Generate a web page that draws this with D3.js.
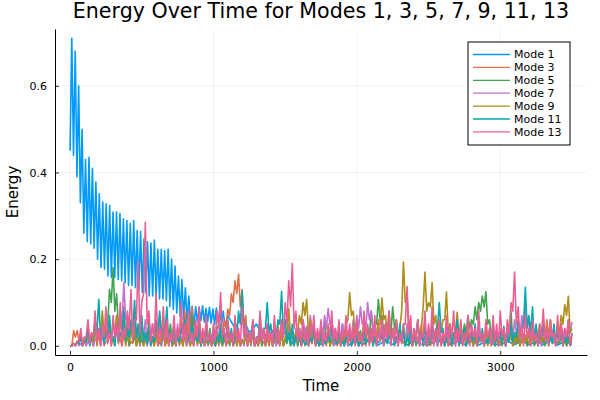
<!DOCTYPE html>
<html lang="en">
<head>
<meta charset="UTF-8">
<title>Energy Over Time</title>
<style>
  body { margin: 0; background: #fff; }
  text { font-family: "DejaVu Sans", sans-serif; fill: #000; }
  .grid line { stroke: #000; stroke-opacity: 0.09; stroke-width: 0.6px; }
  .mode { fill: none; stroke-width: 1.6px; stroke-linejoin: round; }
</style>
</head>
<body>
<script src="https://cdnjs.cloudflare.com/ajax/libs/d3/7.8.5/d3.min.js"></script>
<script>

var width = 600,
    height = 400;

var margin = {left: 55, right: 13, top: 29, bottom: 45};

var modeNames = ["Mode 1", "Mode 3", "Mode 5", "Mode 7", "Mode 9", "Mode 11", "Mode 13"];
var modeColors = ["#009afa", "#e36f47", "#3ea44e", "#c371d2", "#ac8e18", "#00aaae", "#ed5e93"];

var xTicks = [0, 1000, 2000, 3000];
var yTicks = [0, 0.2, 0.4, 0.6];

// mode 1 sampled every 12 time units up to t = 1080 (peak / trough pairs)
var mode1EarlyStep = 12;
var mode1Early = [0.45,
  0.71, 0.44, 0.68, 0.39, 0.60, 0.33, 0.50, 0.26, 0.43, 0.24,
  0.435, 0.235, 0.41, 0.225, 0.378, 0.20, 0.351, 0.181, 0.332, 0.177,
  0.328, 0.161, 0.324, 0.158, 0.309, 0.158, 0.309, 0.153, 0.305, 0.150,
  0.293, 0.146, 0.289, 0.139, 0.282, 0.139, 0.289, 0.134, 0.266, 0.131,
  0.264, 0.123, 0.247, 0.123, 0.240, 0.115, 0.237, 0.115, 0.244, 0.112,
  0.223, 0.108, 0.223, 0.108, 0.220, 0.104, 0.223, 0.091, 0.200, 0.084,
  0.184, 0.076, 0.161, 0.069, 0.153, 0.060, 0.134, 0.053, 0.115, 0.053,
  0.091, 0.045, 0.090, 0.055, 0.088, 0.058, 0.092, 0.055, 0.086, 0.056,
  0.089, 0.052, 0.085, 0.050, 0.087, 0.054, 0.082, 0.048, 0.080, 0.046];

// mode 1 after t = 1100, every 50 time units
var mode1LateStart = 1100,
    mode1LateStep = 50;
var mode1Late = [0.07, 0.04, 0.07, 0.03, 0.05, 0.02, 0.04, 0.01, 0.03, 0.005,
  0.025, 0.004, 0.02, 0.003, 0.015, 0.004, 0.02, 0.002, 0.012, 0.004,
  0.018, 0.002, 0.012, 0.003, 0.015, 0.002, 0.01, 0.004, 0.002, 0.01,
  0.015, 0.002, 0.01, 0.003, 0.012, 0.002, 0.01, 0.004, 0.002, 0.01,
  0.003, 0.012, 0.002, 0.01, 0.003, 0.012, 0.002, 0.01, 0.003];

// the other modes: local peaks every 25 time units (t = 0 .. 3500)
// and the dips between them (t = 12.5, 37.5, ...)
var modeStep = 25;

var mode3 = [0.00, 0.035, 0.035, 0.02, 0.01, 0.04, 0.015, 0.05, 0.02, 0.06,
  0.01, 0.045, 0.02, 0.07, 0.015, 0.03, 0.055, 0.01, 0.04, 0.02,
  0.06, 0.015, 0.035, 0.01, 0.05, 0.02, 0.065, 0.015, 0.04, 0.03,
  0.02, 0.055, 0.08, 0.07, 0.09, 0.04, 0.06, 0.02, 0.045, 0.015,
  0.03, 0.01, 0.04, 0.06, 0.085, 0.12, 0.15, 0.165, 0.13, 0.07,
  0.03, 0.05, 0.015, 0.04, 0.01, 0.03, 0.02, 0.045, 0.01, 0.025,
  0.015, 0.035, 0.01, 0.03, 0.02, 0.01, 0.04, 0.015, 0.03, 0.01,
  0.025, 0.01, 0.035, 0.015, 0.03, 0.01, 0.02, 0.04, 0.015, 0.025,
  0.01, 0.03, 0.02, 0.045, 0.015, 0.035, 0.06, 0.03, 0.05, 0.08,
  0.04, 0.02, 0.035, 0.01, 0.03, 0.015, 0.04, 0.02, 0.05, 0.015,
  0.03, 0.01, 0.025, 0.04, 0.015, 0.03, 0.01, 0.02, 0.035, 0.015,
  0.03, 0.01, 0.025, 0.015, 0.04, 0.02, 0.01, 0.03, 0.015, 0.025,
  0.01, 0.035, 0.02, 0.03, 0.01, 0.04, 0.015, 0.025, 0.01, 0.03,
  0.045, 0.015, 0.03, 0.06, 0.02, 0.035, 0.01, 0.025, 0.04, 0.015, 0.02];
var mode3Low = [0.00, 0.02, 0.01, 0.005, 0.0, 0.01, 0.0, 0.01, 0.005, 0.0,
  0.01, 0.005, 0.0, 0.01, 0.0, 0.015, 0.0, 0.005, 0.01, 0.0,
  0.005, 0.0, 0.01, 0.0, 0.005, 0.01, 0.0, 0.005, 0.0, 0.01,
  0.005, 0.02, 0.03, 0.04, 0.02, 0.01, 0.0, 0.01, 0.0, 0.005,
  0.0, 0.005, 0.02, 0.04, 0.07, 0.10, 0.12, 0.09, 0.04, 0.01,
  0.01, 0.0, 0.005, 0.0, 0.01, 0.0, 0.01, 0.0, 0.005, 0.0,
  0.01, 0.0, 0.005, 0.0, 0.0, 0.01, 0.0, 0.005, 0.0, 0.0,
  0.005, 0.0, 0.0, 0.01, 0.0, 0.005, 0.0, 0.01, 0.0, 0.005,
  0.0, 0.01, 0.0, 0.005, 0.01, 0.02, 0.01, 0.02, 0.04, 0.02,
  0.01, 0.0, 0.005, 0.0, 0.01, 0.0, 0.005, 0.01, 0.0, 0.005,
  0.0, 0.005, 0.01, 0.0, 0.005, 0.0, 0.0, 0.01, 0.0, 0.005,
  0.0, 0.01, 0.0, 0.005, 0.01, 0.0, 0.005, 0.0, 0.01, 0.0,
  0.005, 0.0, 0.01, 0.0, 0.005, 0.0, 0.01, 0.0, 0.005, 0.01,
  0.0, 0.01, 0.02, 0.005, 0.01, 0.0, 0.005, 0.01, 0.0, 0.005];

var mode5 = [0.00, 0.005, 0.01, 0.02, 0.015, 0.035, 0.02, 0.05, 0.03, 0.07,
  0.04, 0.13, 0.18, 0.12, 0.06, 0.09, 0.03, 0.05, 0.02, 0.04,
  0.015, 0.03, 0.06, 0.02, 0.045, 0.01, 0.035, 0.02, 0.05, 0.015,
  0.04, 0.02, 0.06, 0.03, 0.07, 0.04, 0.05, 0.02, 0.035, 0.04,
  0.02, 0.045, 0.03, 0.015, 0.035, 0.02, 0.01, 0.03, 0.015, 0.04,
  0.02, 0.03, 0.01, 0.025, 0.04, 0.015, 0.03, 0.01, 0.02, 0.035,
  0.015, 0.025, 0.01, 0.03, 0.02, 0.04, 0.015, 0.03, 0.05, 0.025,
  0.04, 0.06, 0.03, 0.045, 0.02, 0.035, 0.05, 0.02, 0.04, 0.03,
  0.05, 0.035, 0.06, 0.04, 0.08, 0.05, 0.107, 0.07, 0.05, 0.04,
  0.09, 0.06, 0.04, 0.05, 0.03, 0.02, 0.035, 0.015, 0.03, 0.02,
  0.01, 0.025, 0.04, 0.015, 0.03, 0.02, 0.04, 0.03, 0.025, 0.05,
  0.05, 0.07, 0.06, 0.09, 0.10, 0.115, 0.125, 0.06, 0.04, 0.03,
  0.02, 0.04, 0.03, 0.08, 0.03, 0.015, 0.035, 0.02, 0.04, 0.025,
  0.01, 0.03, 0.015, 0.025, 0.04, 0.02, 0.01, 0.03, 0.015, 0.02, 0.01];
var mode5Low = [0.0, 0.0, 0.005, 0.0, 0.01, 0.005, 0.0, 0.01, 0.02, 0.01,
  0.05, 0.10, 0.08, 0.04, 0.02, 0.01, 0.0, 0.01, 0.0, 0.005,
  0.0, 0.01, 0.0, 0.005, 0.0, 0.0, 0.005, 0.01, 0.0, 0.005,
  0.01, 0.0, 0.02, 0.01, 0.02, 0.01, 0.0, 0.005, 0.01, 0.0,
  0.005, 0.01, 0.0, 0.005, 0.0, 0.0, 0.01, 0.0, 0.005, 0.0,
  0.01, 0.0, 0.005, 0.0, 0.0, 0.01, 0.0, 0.005, 0.0, 0.0,
  0.005, 0.0, 0.01, 0.0, 0.005, 0.0, 0.01, 0.02, 0.01, 0.005,
  0.02, 0.01, 0.0, 0.01, 0.005, 0.01, 0.0, 0.01, 0.005, 0.01,
  0.02, 0.01, 0.03, 0.02, 0.04, 0.05, 0.06, 0.03, 0.02, 0.03,
  0.04, 0.02, 0.01, 0.01, 0.0, 0.005, 0.0, 0.005, 0.0, 0.0,
  0.005, 0.01, 0.0, 0.005, 0.0, 0.01, 0.0, 0.005, 0.01, 0.02,
  0.03, 0.04, 0.05, 0.06, 0.08, 0.09, 0.05, 0.02, 0.01, 0.005,
  0.01, 0.0, 0.02, 0.01, 0.005, 0.0, 0.01, 0.0, 0.005, 0.0,
  0.005, 0.0, 0.0, 0.01, 0.005, 0.0, 0.005, 0.0, 0.0, 0.005];

var mode7 = [0.00, 0.005, 0.01, 0.005, 0.02, 0.01, 0.03, 0.015, 0.04, 0.02,
  0.05, 0.03, 0.06, 0.04, 0.08, 0.146, 0.07, 0.05, 0.09, 0.03,
  0.04, 0.06, 0.02, 0.05, 0.03, 0.07, 0.02, 0.04, 0.015, 0.03,
  0.05, 0.02, 0.04, 0.015, 0.03, 0.05, 0.02, 0.035, 0.015, 0.03,
  0.02, 0.04, 0.015, 0.03, 0.01, 0.025, 0.04, 0.02, 0.015, 0.03,
  0.02, 0.035, 0.015, 0.04, 0.025, 0.05, 0.03, 0.02, 0.04, 0.06,
  0.035, 0.05, 0.02, 0.04, 0.03, 0.06, 0.045, 0.07, 0.04, 0.03,
  0.05, 0.07, 0.086, 0.06, 0.04, 0.03, 0.05, 0.02, 0.04, 0.06,
  0.07, 0.09, 0.06, 0.10, 0.08, 0.05, 0.04, 0.06, 0.03, 0.05,
  0.035, 0.02, 0.04, 0.03, 0.05, 0.02, 0.04, 0.015, 0.03, 0.02,
  0.04, 0.025, 0.015, 0.03, 0.02, 0.045, 0.03, 0.015, 0.025, 0.04,
  0.02, 0.035, 0.015, 0.03, 0.05, 0.02, 0.04, 0.03, 0.015, 0.025,
  0.04, 0.02, 0.05, 0.035, 0.06, 0.04, 0.07, 0.10, 0.05, 0.03,
  0.04, 0.02, 0.05, 0.03, 0.04, 0.02, 0.035, 0.05, 0.03, 0.06, 0.055];
var mode7Low = [0.0, 0.0, 0.0, 0.005, 0.0, 0.005, 0.0, 0.01, 0.0, 0.01,
  0.005, 0.01, 0.02, 0.01, 0.05, 0.06, 0.02, 0.03, 0.01, 0.0,
  0.02, 0.0, 0.01, 0.005, 0.02, 0.0, 0.01, 0.0, 0.005, 0.01,
  0.0, 0.01, 0.005, 0.0, 0.01, 0.0, 0.005, 0.0, 0.005, 0.0,
  0.01, 0.0, 0.005, 0.0, 0.005, 0.01, 0.0, 0.005, 0.0, 0.01,
  0.0, 0.005, 0.0, 0.01, 0.005, 0.02, 0.01, 0.0, 0.02, 0.03,
  0.01, 0.02, 0.0, 0.01, 0.02, 0.03, 0.02, 0.04, 0.01, 0.01,
  0.02, 0.04, 0.05, 0.03, 0.01, 0.01, 0.02, 0.0, 0.02, 0.03,
  0.04, 0.05, 0.04, 0.06, 0.03, 0.02, 0.02, 0.01, 0.01, 0.02,
  0.01, 0.0, 0.01, 0.005, 0.02, 0.0, 0.01, 0.0, 0.005, 0.0,
  0.01, 0.005, 0.0, 0.01, 0.0, 0.01, 0.005, 0.0, 0.005, 0.01,
  0.0, 0.01, 0.0, 0.005, 0.01, 0.0, 0.01, 0.005, 0.0, 0.005,
  0.01, 0.0, 0.02, 0.01, 0.03, 0.02, 0.04, 0.05, 0.02, 0.01,
  0.01, 0.0, 0.02, 0.01, 0.01, 0.0, 0.01, 0.02, 0.01, 0.03];

var mode9 = [0.00, 0.005, 0.01, 0.03, 0.015, 0.05, 0.02, 0.06, 0.03, 0.08,
  0.04, 0.06, 0.02, 0.07, 0.03, 0.05, 0.02, 0.04, 0.06, 0.02,
  0.035, 0.015, 0.05, 0.02, 0.03, 0.01, 0.04, 0.015, 0.025, 0.01,
  0.03, 0.015, 0.02, 0.04, 0.01, 0.03, 0.015, 0.025, 0.01, 0.02,
  0.01, 0.025, 0.015, 0.03, 0.01, 0.02, 0.035, 0.015, 0.01, 0.025,
  0.015, 0.03, 0.01, 0.02, 0.04, 0.015, 0.03, 0.02, 0.05, 0.03,
  0.02, 0.086, 0.04, 0.03, 0.07, 0.10, 0.107, 0.06, 0.03, 0.02,
  0.035, 0.015, 0.03, 0.01, 0.025, 0.04, 0.02, 0.05, 0.123, 0.08,
  0.03, 0.02, 0.04, 0.015, 0.03, 0.02, 0.05, 0.11, 0.07, 0.04,
  0.03, 0.06, 0.04, 0.193, 0.12, 0.05, 0.03, 0.06, 0.04, 0.17,
  0.10, 0.146, 0.07, 0.04, 0.06, 0.124, 0.05, 0.03, 0.077, 0.04,
  0.02, 0.035, 0.015, 0.03, 0.01, 0.025, 0.04, 0.015, 0.03, 0.02,
  0.01, 0.03, 0.015, 0.04, 0.02, 0.03, 0.015, 0.025, 0.04, 0.02,
  0.03, 0.05, 0.02, 0.04, 0.06, 0.03, 0.05, 0.07, 0.095, 0.114, 0.04];
var mode9Low = [0.0, 0.0, 0.005, 0.0, 0.01, 0.005, 0.01, 0.0, 0.02, 0.01,
  0.01, 0.0, 0.02, 0.005, 0.01, 0.0, 0.01, 0.02, 0.0, 0.005,
  0.0, 0.01, 0.005, 0.0, 0.0, 0.01, 0.0, 0.005, 0.0, 0.0,
  0.005, 0.0, 0.01, 0.0, 0.0, 0.005, 0.0, 0.0, 0.005, 0.0,
  0.0, 0.005, 0.0, 0.0, 0.005, 0.01, 0.0, 0.0, 0.005, 0.0,
  0.005, 0.0, 0.0, 0.01, 0.0, 0.005, 0.0, 0.01, 0.01, 0.0,
  0.03, 0.02, 0.01, 0.03, 0.05, 0.07, 0.03, 0.01, 0.005, 0.0,
  0.0, 0.01, 0.0, 0.005, 0.01, 0.0, 0.01, 0.06, 0.07, 0.02,
  0.0, 0.01, 0.005, 0.01, 0.0, 0.01, 0.05, 0.06, 0.02, 0.01,
  0.02, 0.01, 0.08, 0.10, 0.03, 0.01, 0.02, 0.01, 0.09, 0.08,
  0.09, 0.05, 0.02, 0.03, 0.06, 0.03, 0.01, 0.03, 0.02, 0.01,
  0.0, 0.005, 0.0, 0.0, 0.01, 0.005, 0.0, 0.01, 0.0, 0.005,
  0.0, 0.005, 0.01, 0.0, 0.01, 0.0, 0.005, 0.01, 0.0, 0.01,
  0.02, 0.01, 0.01, 0.03, 0.02, 0.01, 0.03, 0.05, 0.07, 0.03];

var mode11 = [0.00, 0.005, 0.01, 0.02, 0.01, 0.04, 0.02, 0.06, 0.107, 0.04,
  0.03, 0.07, 0.02, 0.05, 0.03, 0.08, 0.04, 0.06, 0.105, 0.05,
  0.07, 0.03, 0.05, 0.02, 0.06, 0.08, 0.04, 0.09, 0.03, 0.05,
  0.02, 0.04, 0.06, 0.025, 0.05, 0.02, 0.04, 0.015, 0.06, 0.03,
  0.045, 0.02, 0.05, 0.03, 0.06, 0.04, 0.02, 0.08, 0.126, 0.05,
  0.03, 0.06, 0.02, 0.07, 0.04, 0.10, 0.05, 0.03, 0.06, 0.126,
  0.06, 0.03, 0.05, 0.02, 0.04, 0.015, 0.03, 0.02, 0.045, 0.015,
  0.03, 0.01, 0.025, 0.04, 0.015, 0.03, 0.01, 0.02, 0.035, 0.015,
  0.025, 0.01, 0.03, 0.015, 0.04, 0.02, 0.01, 0.03, 0.015, 0.025,
  0.04, 0.02, 0.05, 0.03, 0.015, 0.04, 0.02, 0.06, 0.03, 0.045,
  0.02, 0.05, 0.035, 0.10, 0.04, 0.02, 0.05, 0.03, 0.06, 0.025,
  0.04, 0.02, 0.03, 0.05, 0.02, 0.04, 0.015, 0.03, 0.05, 0.02,
  0.03, 0.045, 0.02, 0.05, 0.03, 0.06, 0.04, 0.135, 0.07, 0.09,
  0.05, 0.03, 0.06, 0.04, 0.02, 0.05, 0.03, 0.04, 0.02, 0.05, 0.03];
var mode11Low = [0.0, 0.0, 0.005, 0.0, 0.01, 0.0, 0.02, 0.03, 0.02, 0.005,
  0.02, 0.01, 0.0, 0.01, 0.02, 0.01, 0.02, 0.03, 0.02, 0.01,
  0.01, 0.005, 0.0, 0.01, 0.03, 0.02, 0.03, 0.01, 0.005, 0.0,
  0.01, 0.02, 0.0, 0.01, 0.005, 0.01, 0.0, 0.01, 0.005, 0.01,
  0.0, 0.01, 0.005, 0.02, 0.01, 0.0, 0.02, 0.05, 0.04, 0.01,
  0.02, 0.0, 0.02, 0.01, 0.04, 0.03, 0.0, 0.02, 0.05, 0.03,
  0.01, 0.005, 0.0, 0.01, 0.0, 0.005, 0.0, 0.01, 0.0, 0.0,
  0.0, 0.005, 0.01, 0.0, 0.005, 0.0, 0.0, 0.01, 0.0, 0.005,
  0.0, 0.0, 0.005, 0.01, 0.0, 0.0, 0.01, 0.0, 0.005, 0.01,
  0.0, 0.01, 0.01, 0.0, 0.01, 0.0, 0.02, 0.01, 0.01, 0.0,
  0.01, 0.01, 0.04, 0.03, 0.0, 0.01, 0.005, 0.02, 0.0, 0.01,
  0.0, 0.005, 0.01, 0.0, 0.01, 0.0, 0.005, 0.01, 0.0, 0.01,
  0.005, 0.0, 0.01, 0.01, 0.02, 0.03, 0.05, 0.04, 0.03, 0.01,
  0.0, 0.02, 0.01, 0.0, 0.01, 0.005, 0.01, 0.0, 0.01, 0.0];

var mode13 = [0.00, 0.005, 0.01, 0.04, 0.02, 0.06, 0.03, 0.08, 0.04, 0.05,
  0.09, 0.03, 0.07, 0.05, 0.10, 0.04, 0.08, 0.13, 0.06, 0.196,
  0.10, 0.285, 0.08, 0.05, 0.12, 0.04, 0.09, 0.06, 0.03, 0.07,
  0.04, 0.10, 0.05, 0.08, 0.03, 0.06, 0.09, 0.04, 0.07, 0.03,
  0.05, 0.08, 0.123, 0.04, 0.06, 0.03, 0.07, 0.04, 0.09, 0.05,
  0.03, 0.06, 0.02, 0.08, 0.04, 0.05, 0.03, 0.07, 0.04, 0.06,
  0.10, 0.15, 0.19, 0.08, 0.04, 0.06, 0.03, 0.05, 0.07, 0.04,
  0.06, 0.03, 0.05, 0.08, 0.04, 0.06, 0.03, 0.07, 0.05, 0.04,
  0.06, 0.03, 0.08, 0.05, 0.04, 0.07, 0.03, 0.06, 0.05, 0.08,
  0.04, 0.06, 0.03, 0.05, 0.137, 0.07, 0.04, 0.06, 0.03, 0.08,
  0.05, 0.09, 0.04, 0.06, 0.03, 0.07, 0.05, 0.08, 0.04, 0.06,
  0.03, 0.07, 0.05, 0.04, 0.08, 0.03, 0.06, 0.04, 0.07, 0.05,
  0.08, 0.04, 0.06, 0.10, 0.17, 0.09, 0.05, 0.07, 0.04, 0.06,
  0.03, 0.05, 0.085, 0.04, 0.06, 0.03, 0.07, 0.05, 0.04, 0.06, 0.03];
var mode13Low = [0.0, 0.0, 0.01, 0.0, 0.02, 0.005, 0.02, 0.01, 0.0, 0.02,
  0.01, 0.0, 0.02, 0.01, 0.0, 0.02, 0.04, 0.01, 0.06, 0.03,
  0.12, 0.05, 0.01, 0.02, 0.0, 0.02, 0.01, 0.0, 0.01, 0.0,
  0.02, 0.01, 0.0, 0.01, 0.0, 0.02, 0.005, 0.0, 0.01, 0.0,
  0.01, 0.04, 0.02, 0.0, 0.01, 0.0, 0.01, 0.0, 0.02, 0.0,
  0.01, 0.0, 0.005, 0.01, 0.0, 0.01, 0.0, 0.01, 0.0, 0.02,
  0.05, 0.09, 0.04, 0.01, 0.0, 0.01, 0.0, 0.02, 0.0, 0.01,
  0.0, 0.01, 0.02, 0.0, 0.01, 0.0, 0.02, 0.0, 0.01, 0.0,
  0.01, 0.0, 0.02, 0.0, 0.01, 0.0, 0.01, 0.0, 0.02, 0.0,
  0.01, 0.0, 0.01, 0.05, 0.03, 0.0, 0.01, 0.0, 0.02, 0.0,
  0.01, 0.0, 0.02, 0.0, 0.01, 0.0, 0.02, 0.0, 0.01, 0.0,
  0.01, 0.0, 0.02, 0.0, 0.01, 0.0, 0.02, 0.0, 0.01, 0.0,
  0.02, 0.0, 0.03, 0.08, 0.05, 0.01, 0.0, 0.02, 0.0, 0.01,
  0.0, 0.02, 0.01, 0.0, 0.02, 0.0, 0.01, 0.0, 0.02, 0.0];

// turn the arrays into [time, energy] pairs
var mode1 = mode1Early.map(function(v, i){ return [i * mode1EarlyStep, v]; })
  .concat(mode1Late.map(function(v, i){ return [mode1LateStart + i * mode1LateStep, v]; }));

function merged(peaks, lows) {
  var pts = [];
  peaks.forEach(function(v, i){
    pts.push([i * modeStep, v]);
    if (i < lows.length) pts.push([i * modeStep + modeStep / 2, lows[i]]);
  });
  return pts;
}

var series = [mode1, merged(mode3, mode3Low), merged(mode5, mode5Low), merged(mode7, mode7Low),
  merged(mode9, mode9Low), merged(mode11, mode11Low), merged(mode13, mode13Low)];

var svg = d3.select("body").append("svg")
  .attr("width", width)
  .attr("height", height);

// axis limits padded by 3% each side, the way the original tool does it
var xExtent = [0, 3500],
    yExtent = [0, d3.max(mode1Early)];
var xPad = (xExtent[1] - xExtent[0]) * 0.03,
    yPad = (yExtent[1] - yExtent[0]) * 0.03;

var x = d3.scaleLinear()
  .domain([xExtent[0] - xPad, xExtent[1] + xPad])
  .range([margin.left, width - margin.right]);

var y = d3.scaleLinear()
  .domain([yExtent[0] - yPad, yExtent[1] + yPad])
  .range([height - margin.bottom, margin.top]);

var grid = svg.append("g").attr("class", "grid");

grid.selectAll(".vx")
  .data(xTicks)
  .enter().append("line")
    .attr("x1", function(d){ return x(d); })
    .attr("x2", function(d){ return x(d); })
    .attr("y1", margin.top)
    .attr("y2", height - margin.bottom);

grid.selectAll(".hy")
  .data(yTicks)
  .enter().append("line")
    .attr("x1", margin.left)
    .attr("x2", width - margin.right)
    .attr("y1", function(d){ return y(d); })
    .attr("y2", function(d){ return y(d); });

var line = d3.line()
  .x(function(d){ return x(d[0]); })
  .y(function(d){ return y(d[1]); });

svg.append("g")
  .selectAll("path")
  .data(series)
  .enter().append("path")
    .attr("class", "mode")
    .attr("stroke", function(d, i){ return modeColors[i]; })
    .attr("d", line);

// axes: ticks point inwards, labels outside
var xAxis = svg.append("g")
  .attr("transform", "translate(0," + (height - margin.bottom) + ")")
  .call(d3.axisBottom(x).tickValues(xTicks).tickSizeInner(-4).tickSizeOuter(0).tickPadding(8)
    .tickFormat(d3.format("d")));

var yAxis = svg.append("g")
  .attr("transform", "translate(" + margin.left + ",0)")
  .call(d3.axisLeft(y).tickValues(yTicks).tickSizeInner(-4).tickSizeOuter(0).tickPadding(8)
    .tickFormat(d3.format(".1f")));

[xAxis, yAxis].forEach(function(ax){
  ax.select(".domain").attr("stroke", "#000").attr("stroke-width", 1);
  ax.selectAll(".tick line").attr("stroke", "#000").attr("stroke-width", 0.8);
  ax.selectAll(".tick text")
    .attr("font-family", "DejaVu Sans, sans-serif")
    .attr("font-size", 11)
    .attr("fill", "#000");
});

svg.append("text")
  .attr("x", (margin.left + width - margin.right) / 2)
  .attr("y", 18)
  .attr("text-anchor", "middle")
  .style("font-size", "20.6px")
  .text("Energy Over Time for Modes 1, 3, 5, 7, 9, 11, 13");

svg.append("text")
  .attr("x", (margin.left + width - margin.right) / 2)
  .attr("y", 391)
  .attr("text-anchor", "middle")
  .style("font-size", "15px")
  .text("Time");

svg.append("text")
  .attr("transform", "translate(18," + ((margin.top + height - margin.bottom) / 2) + ") rotate(-90)")
  .attr("text-anchor", "middle")
  .style("font-size", "15px")
  .text("Energy");

// legend
var legend = svg.append("g").attr("transform", "translate(468,42)");

legend.append("rect")
  .attr("width", 102)
  .attr("height", 103)
  .attr("fill", "#fff")
  .attr("stroke", "#000")
  .attr("stroke-width", 1);

var rows = legend.selectAll(".row")
  .data(modeNames)
  .enter().append("g")
    .attr("transform", function(d, i){ return "translate(0," + (12.5 + i * 12.9) + ")"; });

rows.append("line")
  .attr("x1", 5)
  .attr("x2", 42)
  .attr("stroke", function(d, i){ return modeColors[i]; })
  .attr("stroke-width", 1.3);

rows.append("text")
  .attr("x", 46)
  .attr("dy", "0.35em")
  .style("font-size", "11px")
  .text(function(d){ return d; });

</script>
</body>
</html>
